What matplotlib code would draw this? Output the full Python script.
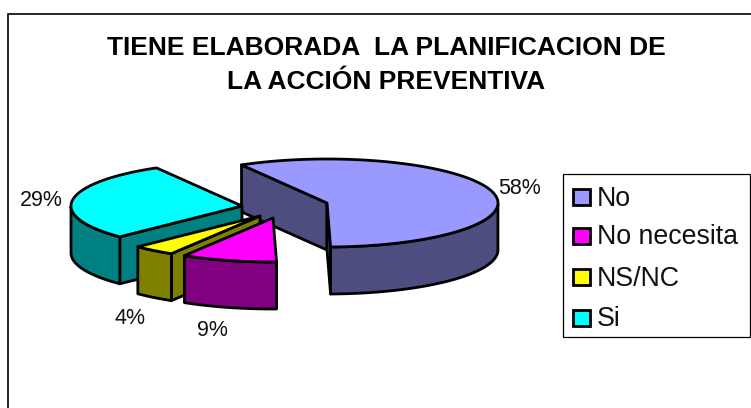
import numpy as np
import matplotlib
matplotlib.use("Agg")
import matplotlib.pyplot as plt
from matplotlib.patches import Polygon, Rectangle

plt.rcParams['font.family'] = ['Liberation Sans', 'DejaVu Sans']

categories = ["No", "No necesita", "NS/NC", "Si"]
values = [58, 9, 4, 29]
top_colors = ["#9999FF", "#FF00FF", "#FFFF00", "#00FFFF"]
side_colors = ["#4D4D80", "#800080", "#808000", "#008080"]
title = "TIENE ELABORADA  LA PLANIFICACION DE\nLA ACCIÓN PREVENTIVA"

# layout (pixels)
apex = [(327, 203), (273, 218), (260, 216), (242, 206)]
label_pos = [(520, 188), (212, 330), (130, 319), (41, 200)]
RX, RY, DEPTH = 171, 44, 47
START = 120.0

W, H = 751, 408
fig = plt.figure(figsize=(W / 100, H / 100), dpi=100)
ax = fig.add_axes([0, 0, 1, 1])
ax.set_xlim(0, W)
ax.set_ylim(H, 0)
ax.axis("off")

LW = 2.0
ax.add_patch(Rectangle((8, 14), W + 20, H + 20, fc="white", ec="black", lw=1.2, zorder=0))


def wedge(center, a0, a1, top, side, z):
    cx, cy = center
    t = np.radians(np.linspace(a0, a1, 80))
    xs = cx + RX * np.cos(t)
    ys = cy - RY * np.sin(t)
    kw = dict(ec="black", lw=LW, joinstyle="round", zorder=z)
    # cut walls facing the viewer
    if np.cos(t[0]) < -1e-6:
        ax.add_patch(Polygon([(cx, cy), (xs[0], ys[0]), (xs[0], ys[0] + DEPTH), (cx, cy + DEPTH)],
                             fc=side, **kw))
    if np.cos(t[-1]) > 0:
        ax.add_patch(Polygon([(cx, cy), (xs[-1], ys[-1]), (xs[-1], ys[-1] + DEPTH), (cx, cy + DEPTH)],
                             fc=side, **kw))
    # outer rim: front facing part only
    front = np.sin(t) <= 0
    if front.any():
        fx, fy = xs[front], ys[front]
        ax.add_patch(Polygon(np.r_[np.c_[fx, fy], np.c_[fx, fy + DEPTH][::-1]], fc=side, **kw))
    ax.add_patch(Polygon(np.r_[[(cx, cy)], np.c_[xs, ys]], fc=top, **kw))


angle = START
spans = []
for v in values:
    span = 360 * v / sum(values)
    spans.append((angle, angle - span))
    angle -= span

for z, i in enumerate((0, 3, 2, 1)):
    wedge(apex[i], spans[i][0], spans[i][1], top_colors[i], side_colors[i], 2 + z)

for v, (x, y) in zip(values, label_pos):
    ax.text(x, y, f"{v}%", ha="center", va="center", fontsize=15.5, color="#111111", zorder=10)

ax.text(386, 65, title, ha="center", va="center", fontsize=19, fontweight="bold",
        linespacing=1.55, color="black", zorder=10)

# legend
ax.add_patch(Rectangle((563, 174), 187, 163, fc="white", ec="black", lw=0.9, zorder=6))
leg_y = [197, 236, 277, 318]
for c, name, y in zip(top_colors, categories, leg_y):
    ax.add_patch(Rectangle((573, y - 8), 17, 16, fc=c, ec="black", lw=LW, zorder=7))
    ax.text(597, y + 1.5, name, ha="left", va="center", fontsize=19.3, color="#111111", zorder=8)

fig.savefig("out.png", dpi=100)
